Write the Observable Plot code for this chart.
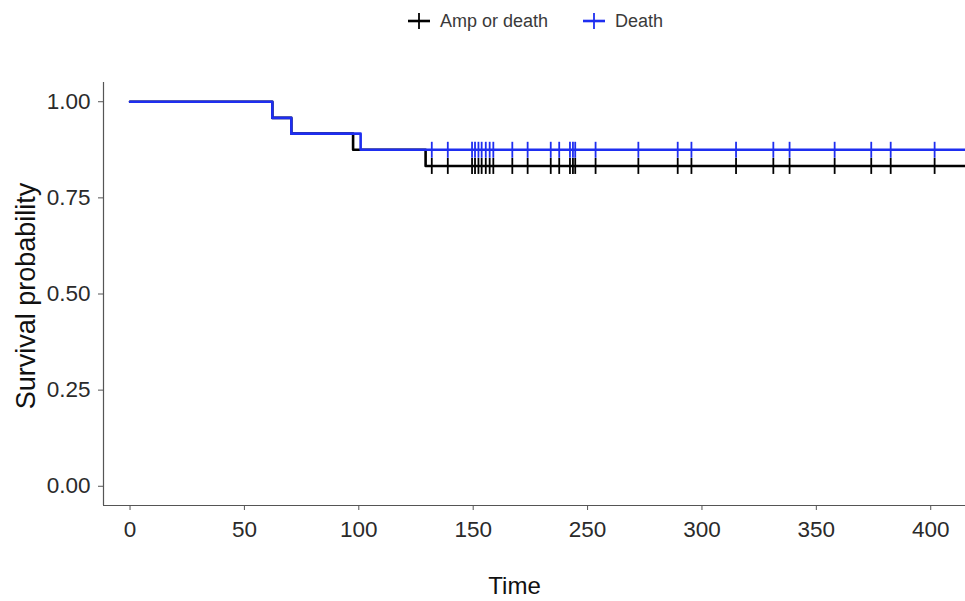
<!DOCTYPE html>
<html>
<head>
<meta charset="utf-8">
<script src="https://cdn.jsdelivr.net/npm/d3@7"></script>
<script src="https://cdn.jsdelivr.net/npm/@observablehq/plot@0.6"></script>
<style>
  body { margin: 0; background: #fff; font-family: "Liberation Sans", Arial, sans-serif; }
  #wrap { position: relative; width: 965px; height: 601px; overflow: hidden; }
  #legend { position: absolute; top: 10px; left: 407px; display: flex; align-items: center; font-size: 18px; color: #3a3a3a; line-height: 22px; }
  .item { display: flex; align-items: center; }
  .item svg { margin-right: 9px; }
  #chart { position: absolute; top: 0; left: 0; }
</style>
</head>
<body>
<div id="wrap">
  <div id="chart"></div>
  <div id="legend"></div>
</div>
<script>
// Series
const seriesNames = ["Amp or death", "Death"];
const seriesColors = ["#000000", "#1e2ef0"];

// Kaplan-Meier step points (time, survival)
const ampTime = [0, 62.2, 70.5, 97.5, 129.2, 365];
const ampSurv = [1.0, 0.958, 0.917, 0.875, 0.833, 0.833];
const deathTime = [0, 62.2, 70.5, 100.8, 365];
const deathSurv = [1.0, 0.958, 0.917, 0.875, 0.875];

// Censoring times (same for both curves)
const censorTimes = [131.9, 138.9, 149.5, 150.8, 152.3, 153.7, 155.5, 157.2, 158.8, 167.1, 173.8,
  183.9, 187.6, 192.3, 193.6, 194.6, 203.5, 222.2, 239.4, 245.4, 264.9, 281.2, 288.3, 308, 324, 332.5, 351.7];

// Axis ticks
const xTicks = [0, 50, 100, 150, 200, 250, 300, 350];
const xTickLabels = ["0", "50", "100", "150", "250", "300", "350", "400"];
const yTicks = [0, 0.25, 0.5, 0.75, 1];
const yTickLabels = ["0.00", "0.25", "0.50", "0.75", "1.00"];

// Build tables
const ampData = ampTime.map((t, i) => ({time: t, surv: ampSurv[i], series: seriesNames[0]}));
const deathData = deathTime.map((t, i) => ({time: t, surv: deathSurv[i], series: seriesNames[1]}));
function survAt(times, survs, t) {
  let s = survs[0];
  for (let i = 0; i < times.length; i++) if (times[i] <= t) s = survs[i];
  return s;
}
const ampCens = censorTimes.map(t => ({time: t, surv: survAt(ampTime, ampSurv, t)}));
const deathCens = censorTimes.map(t => ({time: t, surv: survAt(deathTime, deathSurv, t)}));

const vline = {
  draw(context, size) {
    const h = Math.sqrt(size / Math.PI);
    context.moveTo(0, -h);
    context.lineTo(0, h);
  }
};

const plot = Plot.plot({
  width: 965,
  height: 601,
  marginLeft: 103,
  marginRight: 0,
  marginTop: 82,
  marginBottom: 96,
  style: {fontFamily: "Liberation Sans, Arial, sans-serif", background: "transparent", overflow: "visible"},
  x: {domain: [-11.6, 365.2]},
  y: {domain: [-0.05, 1.05]},
  marks: [
    Plot.line(ampData, {x: "time", y: "surv", curve: "step-after", stroke: seriesColors[0], strokeWidth: 2.6, clip: true}),
    Plot.dot(ampCens, {x: "time", y: "surv", symbol: vline, r: 8, stroke: seriesColors[0], strokeWidth: 1.8, fill: "none", clip: true}),
    Plot.line(deathData, {x: "time", y: "surv", curve: "step-after", stroke: seriesColors[1], strokeWidth: 2.6, clip: true}),
    Plot.dot(deathCens, {x: "time", y: "surv", symbol: vline, r: 8, stroke: seriesColors[1], strokeWidth: 1.8, fill: "none", clip: true}),
    Plot.axisX({ticks: xTicks, tickFormat: d => xTickLabels[xTicks.indexOf(d)], tickSize: 5, tickPadding: 11,
      fontSize: 22.5, color: "#2a2a2a", stroke: "#555", label: null}),
    Plot.axisY({ticks: yTicks, tickFormat: d => yTickLabels[yTicks.indexOf(d)], tickSize: 5, tickPadding: 8,
      fontSize: 22.5, color: "#2a2a2a", stroke: "#555", label: null}),
    Plot.ruleX([-11.6], {stroke: "#555", strokeWidth: 1.2}),
    Plot.ruleY([-0.05], {stroke: "#555", strokeWidth: 1.2}),
    Plot.text(["Time"], {frameAnchor: "bottom", dx: -20, dy: 88, fontSize: 24, fill: "#111"}),
    Plot.text(["Survival probability"], {frameAnchor: "left", textAnchor: "middle", dx: -77, dy: 2, rotate: -90, fontSize: 27, fill: "#111"})
  ]
});
document.getElementById("chart").appendChild(plot);

// Legend
const legend = document.getElementById("legend");
seriesNames.forEach((name, i) => {
  const item = document.createElement("div");
  item.className = "item";
  if (i > 0) item.style.marginLeft = "34px";
  item.innerHTML = `<svg width="24" height="18"><line x1="1" y1="9" x2="23" y2="9" stroke="${seriesColors[i]}" stroke-width="2.6"/><line x1="12" y1="1" x2="12" y2="17" stroke="${seriesColors[i]}" stroke-width="1.8"/></svg><span>${name}</span>`;
  legend.appendChild(item);
});
</script>
</body>
</html>
